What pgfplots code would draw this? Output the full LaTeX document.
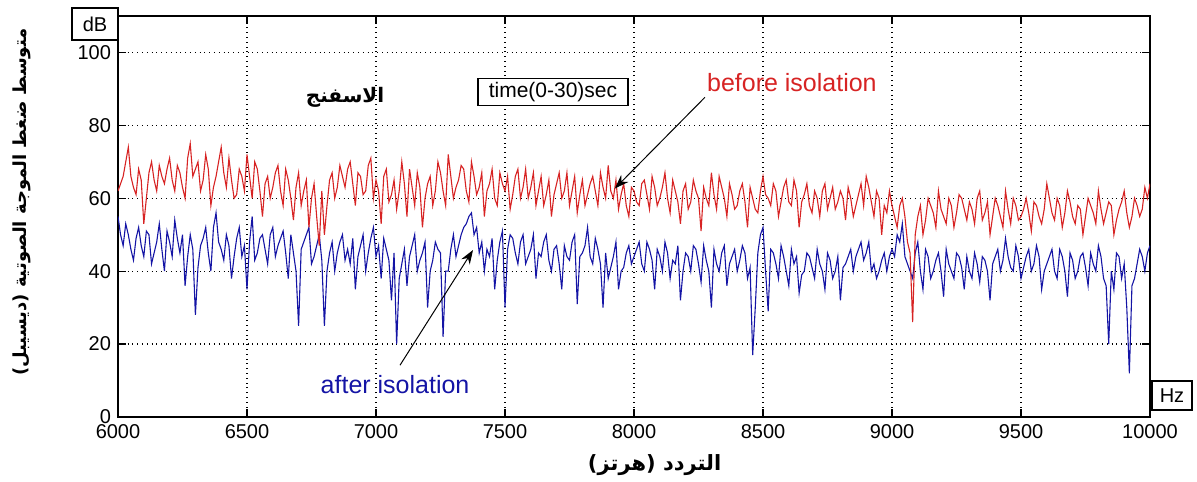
\documentclass[border=0pt]{standalone}
\usepackage{fontspec}
\setmainfont{Liberation Sans}
\newfontfamily\arabicfont[Script=Arabic]{DejaVu Sans}
\TeXXeTstate=1
\usepackage{pgfplots}
\pgfplotsset{compat=1.18}
\usepackage{pgfplotstable}
\usetikzlibrary{arrows.meta}
\definecolor{redline}{RGB}{215,35,35}
\definecolor{blueline}{RGB}{20,20,165}

\pgfplotstableread{
x r b
6000 62 55
6010 64 50
6020 66 47
6030 70 53
6040 74 50
6050 66 46
6060 63 43
6070 61 49
6080 68 52
6090 65 47
6100 53 44
6110 60 51
6120 67 50
6130 70 42
6140 65 45
6150 62 48
6160 69 53
6170 66 46
6180 64 40
6190 68 51
6200 71 48
6210 65 44
6220 62 54
6230 69 49
6240 67 45
6250 63 50
6260 60 36
6270 71 44
6280 75 50
6290 66 46
6300 68 28
6310 70 41
6320 62 47
6330 65 49
6340 72 52
6350 68 45
6360 58 40
6370 63 52
6380 66 56
6390 70 48
6400 74 46
6410 67 43
6420 63 50
6430 71 47
6440 65 38
6450 60 44
6460 61 49
6470 68 52
6480 66 44
6490 62 47
6500 72 35
6510 66 48
6520 60 55
6530 70 43
6540 68 45
6550 62 49
6560 55 50
6570 64 46
6580 66 42
6590 60 50
6600 63 52
6610 67 44
6620 69 47
6630 62 49
6640 58 51
6650 68 45
6660 65 38
6670 60 50
6680 54 45
6690 63 40
6700 67 25
6710 58 46
6720 62 48
6730 65 50
6740 52 52
6750 60 42
6760 64 44
6770 55 47
6780 47 50
6790 62 43
6800 50 25
6810 58 40
6820 65 45
6830 67 48
6840 60 40
6850 63 45
6860 69 48
6870 66 50
6880 63 43
6890 68 46
6900 70 42
6910 64 49
6920 58 35
6930 67 44
6940 66 47
6950 61 50
6960 62 40
6970 69 45
6980 71 49
6990 60 52
7000 65 44
7010 62 47
7020 53 38
7030 66 49
7040 68 46
7050 59 43
7060 61 32
7070 65 45
7080 57 20
7090 62 38
7100 70 42
7110 64 46
7120 55 36
7130 68 44
7140 63 47
7150 58 50
7160 67 40
7170 63 43
7180 52 45
7190 60 48
7200 64 30
7210 66 40
7220 58 43
7230 62 48
7240 70 46
7250 67 45
7260 62 22
7270 58 40
7280 72 40
7290 66 46
7300 60 50
7310 63 44
7320 65 47
7330 69 50
7340 68 52
7350 62 53
7360 59 55
7370 70 56
7380 66 50
7390 61 52
7400 63 45
7410 67 48
7420 55 40
7430 62 46
7440 64 44
7450 68 49
7460 60 35
7470 58 43
7480 67 48
7490 64 51
7500 62 30
7510 66 46
7520 57 50
7530 61 49
7540 66 45
7550 68 42
7560 60 48
7570 63 50
7580 68 42
7590 60 44
7600 63 46
7610 67 50
7620 58 38
7630 62 45
7640 66 44
7650 58 48
7660 61 50
7670 65 43
7680 55 40
7690 61 46
7700 64 47
7710 67 42
7720 60 35
7730 62 47
7740 67 44
7750 58 43
7760 62 48
7770 66 50
7780 56 31
7790 61 44
7800 65 45
7810 58 47
7820 61 52
7830 64 44
7840 66 42
7850 62 49
7860 58 46
7870 67 42
7880 63 30
7890 60 45
7900 69 38
7910 62 41
7920 60 44
7930 65 48
7940 57 35
7950 61 40
7960 64 41
7970 58 45
7980 55 47
7990 63 42
8000 62 44
8010 59 46
8020 58 48
8030 64 42
8040 65 40
8050 61 48
8060 57 46
8070 66 43
8080 63 35
8090 58 46
8100 60 44
8110 63 40
8120 67 48
8130 60 45
8140 56 38
8150 65 43
8160 62 42
8170 59 47
8180 53 32
8190 62 40
8200 64 45
8210 57 44
8220 59 40
8230 65 47
8240 62 46
8250 60 42
8260 51 37
8270 63 47
8280 60 43
8290 58 40
8300 67 30
8310 61 46
8320 57 42
8330 66 40
8340 63 45
8350 60 47
8360 55 36
8370 64 42
8380 61 44
8390 57 46
8400 58 40
8410 62 43
8420 64 47
8430 59 45
8440 52 38
8450 63 41
8460 60 17
8470 57 30
8480 56 45
8490 62 50
8500 66 52
8510 61 40
8520 60 29
8530 58 46
8540 64 45
8550 62 42
8560 55 38
8570 59 47
8580 63 44
8590 65 40
8600 59 36
8610 58 46
8620 65 42
8630 62 44
8640 52 34
8650 59 39
8660 61 40
8670 64 45
8680 58 44
8690 56 41
8700 62 38
8710 60 46
8720 55 42
8730 62 40
8740 64 35
8750 57 45
8760 60 43
8770 63 38
8780 57 40
8790 59 44
8800 62 32
8810 60 41
8820 54 42
8830 63 44
8840 60 46
8850 55 40
8860 58 44
8870 61 46
8880 64 48
8890 58 43
8900 66 45
8910 63 48
8920 59 40
8930 55 42
8940 62 38
8950 60 40
8960 50 43
8970 58 45
8980 56 40
8990 62 44
9000 58 46
9010 55 44
9020 52 50
9030 58 48
9040 60 53
9050 55 44
9060 48 42
9070 45 40
9080 26 38
9090 50 45
9100 55 48
9110 58 40
9120 50 35
9130 54 46
9140 60 44
9150 58 38
9160 56 40
9170 52 43
9180 62 45
9190 57 40
9200 55 33
9210 53 46
9220 60 42
9230 58 40
9240 52 38
9250 56 45
9260 61 44
9270 60 41
9280 57 35
9290 54 44
9300 59 40
9310 57 38
9320 53 45
9330 60 42
9340 62 37
9350 54 44
9360 56 43
9370 59 40
9380 50 32
9390 55 42
9400 60 44
9410 58 46
9420 55 40
9430 52 43
9440 62 49
9450 57 44
9460 53 41
9470 60 40
9480 58 47
9490 54 44
9500 55 38
9510 57 41
9520 60 44
9530 56 46
9540 51 40
9550 59 42
9560 58 47
9570 55 44
9580 53 35
9590 57 40
9600 64 42
9610 60 44
9620 56 46
9630 54 40
9640 60 38
9650 58 46
9660 52 44
9670 56 40
9680 62 33
9690 59 45
9700 55 43
9710 53 38
9720 58 40
9730 57 44
9740 50 45
9750 55 41
9760 60 36
9770 58 45
9780 56 42
9790 53 40
9800 62 47
9810 57 44
9820 53 38
9830 56 36
9840 59 20
9850 58 40
9860 50 35
9870 54 45
9880 57 44
9890 59 38
9900 62 42
9910 56 30
9920 52 12
9930 55 36
9940 60 38
9950 58 42
9960 55 46
9970 57 44
9980 63 40
9990 60 45
10000 64 47
}\data

\begin{document}
\begin{tikzpicture}
\begin{axis}[
  name=ax,
  scale only axis, width=516pt, height=200.5pt,
  xmin=6000, xmax=10000, ymin=0, ymax=110,
  xtick={6000,6500,...,10000}, ytick={0,20,...,100},
  scaled x ticks=false, scaled y ticks=false,
  grid=major,
  major grid style={black, dotted, line width=0.6pt},
  axis line style={line width=0.8pt},
  tick style={black, line width=0.6pt},
  major tick length=4pt,
  tick label style={font=\fontsize{10}{12}\selectfont},
  /pgf/number format/assume math mode=true,
  /pgf/number format/set thousands separator={},
  xlabel={\arabicfont\bfseries\beginR التردد (هرتز)\endR},
  xlabel style={at={(axis description cs:0.52,-0.12)}, anchor=center, font=\fontsize{10.5}{12}\selectfont},
  ylabel={\arabicfont\bfseries\beginR متوسط ضغط الموجة الصوتية (ديسيبل)\endR},
  ylabel style={at={(axis description cs:-0.093,0.536)}, anchor=center, font=\fontsize{9}{11}\selectfont},
  clip mode=individual,
]
\addplot[blueline, line width=0.55pt] table[x=x, y=b] {\data};
\addplot[redline, line width=0.55pt] table[x=x, y=r] {\data};

\node[font=\arabicfont\bfseries\fontsize{10}{12}\selectfont] at (axis cs:6880,87.7) {\beginR الاسفنج\endR};
\node[draw, line width=0.6pt, fill=white, minimum width=75pt, minimum height=13.5pt, inner sep=0pt, font=\fontsize{10.5}{12}\selectfont] at (axis cs:7686,89.2) {time(0-30)sec};
\node[text=redline, font=\fontsize{12.5}{14}\selectfont] at (axis cs:8612,91.8) {before isolation};
\node[text=blueline, font=\fontsize{12.5}{14}\selectfont] at (axis cs:7074,8.8) {after isolation};
\draw[-{Stealth[length=7pt,width=5pt]}, line width=0.5pt] (axis cs:8275,87.7) -- (axis cs:7926,62.7);
\draw[-{Stealth[length=7pt,width=5pt]}, line width=0.5pt] (axis cs:7093,14.2) -- (axis cs:7376,45.8);
\end{axis}
\draw[line width=0.8pt] ([xshift=-23pt,yshift=4pt]ax.north west) rectangle ([yshift=-12pt]ax.north west);
\node[font=\fontsize{10}{12}\selectfont] at ([xshift=-11.5pt,yshift=-4pt]ax.north west) {dB};
\draw[line width=0.6pt] ([xshift=1pt,yshift=3.5pt]ax.south east) rectangle ([xshift=21pt,yshift=18pt]ax.south east);
\node[font=\fontsize{10}{12}\selectfont] at ([xshift=11pt,yshift=10.75pt]ax.south east) {Hz};
\pgfresetboundingbox
\path ([xshift=-59pt,yshift=-32pt]ax.south west) rectangle ([xshift=539.5pt,yshift=208.5pt]ax.south west);
\end{tikzpicture}
\end{document}
